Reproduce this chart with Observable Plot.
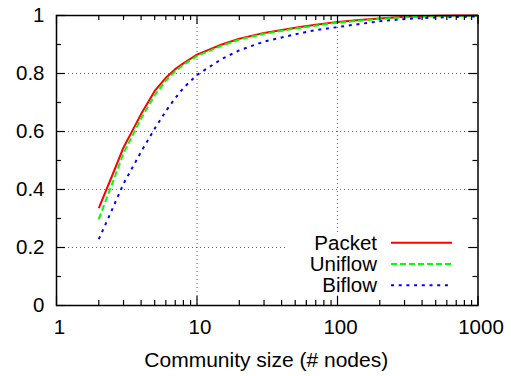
<!DOCTYPE html>
<html>
<head>
<meta charset="utf-8">
<script src="https://cdn.jsdelivr.net/npm/d3@7"></script>
<script src="https://cdn.jsdelivr.net/npm/@observablehq/plot@0.6"></script>
<style>
  html, body { margin: 0; padding: 0; background: #fff; }
  #chart { position: relative; width: 511px; height: 376px; font-family: "Liberation Sans", Arial, Helvetica, sans-serif; }
  #legend { position: absolute; left: 0; top: 0; pointer-events: none; }
</style>
</head>
<body>
<div id="chart"></div>
<script>
// ---- data ----
const sizes   = [2, 2.5, 3, 4, 5, 6, 7, 8, 10, 15, 20, 30, 50, 70, 100, 150, 200, 300, 500, 700, 1000];
const packet  = [0.336, 0.45, 0.545, 0.66, 0.74, 0.785, 0.815, 0.835, 0.865, 0.9, 0.92, 0.94, 0.958, 0.968, 0.978, 0.985, 0.99, 0.996, 0.999, 1.0, 1.0];
const uniflow = [0.298, 0.422, 0.525, 0.645, 0.725, 0.775, 0.808, 0.83, 0.86, 0.896, 0.917, 0.937, 0.955, 0.965, 0.975, 0.983, 0.988, 0.994, 0.997, 0.998, 0.999];
const biflow  = [0.229, 0.333, 0.42, 0.53, 0.61, 0.67, 0.715, 0.75, 0.795, 0.85, 0.88, 0.91, 0.935, 0.95, 0.96, 0.972, 0.98, 0.988, 0.993, 0.995, 0.997];

const seriesNames  = ["Packet", "Uniflow", "Biflow"];
const seriesValues = [packet, uniflow, biflow];
const seriesColors = ["#ff0000", "#00ff00", "#0000ff"];
const seriesDashes = [null, "6,3", "3,4.7"];

const xTickLabels = [1, 10, 100, 1000];
const xMinorTicks = [2,3,4,5,6,7,8,9,20,30,40,50,60,70,80,90,200,300,400,500,600,700,800,900];
const yTickLabels = [0, 0.2, 0.4, 0.6, 0.8, 1];
const yMinorTicks = [0.1, 0.3, 0.5, 0.7, 0.9];
const xGrid = [10, 100];
const yGrid = [0.2, 0.4, 0.6, 0.8];
const xLabel = "Community size (# nodes)";

// ---- layout ----
const W = 511, H = 376;
const mL = 56, mR = 33.5, mT = 15, mB = 71;
const pw = W - mL - mR, ph = H - mT - mB;
const major = 9, minor = 5;
const FONT = '"Liberation Sans", Arial, Helvetica, sans-serif';

const rows = [];
seriesNames.forEach((name, i) => {
  sizes.forEach((s, j) => rows.push({series: name, size: s, frac: seriesValues[i][j]}));
});

const lineMarks = seriesNames.map((name, i) =>
  Plot.line(rows.filter(r => r.series === name), {
    x: "size", y: "frac",
    stroke: seriesColors[i], strokeWidth: 2,
    strokeDasharray: seriesDashes[i],
    strokeLinecap: "butt", strokeLinejoin: "round"
  })
);

const chart = Plot.plot({
  width: W, height: H,
  marginLeft: mL, marginRight: mR, marginTop: mT, marginBottom: mB,
  style: {fontFamily: FONT, fontSize: "20.5px", color: "#000", background: "#fff"},
  x: {type: "log", domain: [1, 1000], axis: null},
  y: {domain: [0, 1], axis: null},
  marks: [
    // grid
    Plot.ruleY(yGrid, {stroke: "#666", strokeWidth: 1, strokeDasharray: "1,3"}),
    Plot.ruleX(xGrid, {stroke: "#666", strokeWidth: 1, strokeDasharray: "1,3"}),
    // legend background mask
    Plot.frame({fill: "#fff", stroke: null, insetLeft: 231, insetTop: 217, insetRight: 10.5, insetBottom: 10}),
    // curves
    ...lineMarks,
    // ticks: bottom / top
    Plot.tickX(xTickLabels, {x: d => d, stroke: "#000", strokeWidth: 1.2, insetTop: ph - major}),
    Plot.tickX(xTickLabels, {x: d => d, stroke: "#000", strokeWidth: 1.2, insetBottom: ph - major}),
    Plot.tickX(xMinorTicks, {x: d => d, stroke: "#000", strokeWidth: 1.2, insetTop: ph - minor}),
    Plot.tickX(xMinorTicks, {x: d => d, stroke: "#000", strokeWidth: 1.2, insetBottom: ph - minor}),
    // ticks: left / right
    Plot.tickY(yTickLabels, {y: d => d, stroke: "#000", strokeWidth: 1.2, insetRight: pw - major}),
    Plot.tickY(yTickLabels, {y: d => d, stroke: "#000", strokeWidth: 1.2, insetLeft: pw - major}),
    Plot.tickY(yMinorTicks, {y: d => d, stroke: "#000", strokeWidth: 1.2, insetRight: pw - minor}),
    Plot.tickY(yMinorTicks, {y: d => d, stroke: "#000", strokeWidth: 1.2, insetLeft: pw - minor}),
    // frame
    Plot.frame({stroke: "#000", strokeWidth: 1.5}),
    // axes labels
    Plot.axisX({ticks: xTickLabels, tickSize: 0, tickPadding: 14, dx: 3, tickFormat: d => String(d), label: null, fontSize: 20.5}),
    Plot.axisY({ticks: yTickLabels, tickSize: 0, tickPadding: 12, tickFormat: d => String(d), label: null, fontSize: 20.5}),
    Plot.text([xLabel], {text: d => d, frameAnchor: "bottom", dx: -1, dy: 55, lineAnchor: "middle", fontSize: 21, fill: "#000"})
  ]
});

const container = document.getElementById("chart");
container.appendChild(chart);

// ---- legend overlay ----
const leg = d3.select(container).append("svg")
  .attr("id", "legend").attr("width", W).attr("height", H);
const textRight = 377, lineX1 = 391, lineX2 = 452, rowY0 = 242.7, rowStep = 21.3;
seriesNames.forEach((name, i) => {
  const y = rowY0 + i * rowStep;
  leg.append("text")
    .attr("x", textRight).attr("y", y).attr("dy", "0.35em")
    .attr("text-anchor", "end")
    .attr("font-family", FONT)
    .attr("font-size", 20.5).attr("fill", "#000")
    .text(name);
  leg.append("line")
    .attr("x1", lineX1).attr("x2", lineX2).attr("y1", y).attr("y2", y)
    .attr("stroke", seriesColors[i]).attr("stroke-width", 2)
    .attr("stroke-dasharray", seriesDashes[i]);
});
</script>
</body>
</html>
